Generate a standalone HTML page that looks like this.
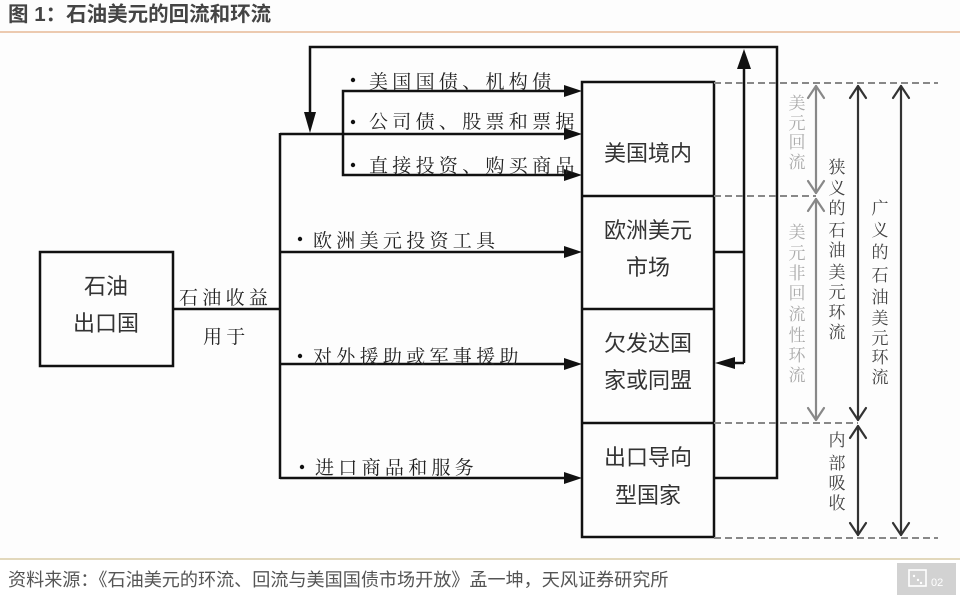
<!DOCTYPE html>
<html><head><meta charset="utf-8">
<style>
html,body{margin:0;padding:0;background:#fdfdfd;}
body{width:960px;height:595px;overflow:hidden;}
svg{display:block;}
.t{font-family:"Liberation Sans","Noto Sans CJK SC",sans-serif;}
.s{font-family:"Noto Serif CJK SC","Liberation Serif",serif;}
</style></head><body>
<svg width="960" height="595" viewBox="0 0 960 595" xmlns="http://www.w3.org/2000/svg">
<rect x="0" y="0" width="960" height="595" fill="#fdfdfd"/>
<!-- title -->
<text x="8" y="21" class="t" font-size="20.5" font-weight="bold" fill="#444">图 1：石油美元的回流和环流</text>
<line x1="0" y1="32" x2="960" y2="32" stroke="#eccab0" stroke-width="2"/>

<g stroke="#111" stroke-width="2.5" fill="none">
  <rect x="40" y="252" width="133" height="114"/>
  <line x1="173" y1="309" x2="280" y2="309"/>
  <line x1="280" y1="133" x2="280" y2="479"/>
  <line x1="280" y1="134" x2="568" y2="134"/>
  <line x1="280" y1="252" x2="568" y2="252"/>
  <line x1="280" y1="364" x2="568" y2="364"/>
  <line x1="280" y1="478" x2="568" y2="478"/>
  <polyline points="568,91 343,91 343,175 568,175"/>
  <rect x="582" y="82" width="132" height="455"/>
  <line x1="582" y1="196" x2="714" y2="196"/>
  <line x1="582" y1="309" x2="714" y2="309"/>
  <line x1="582" y1="423" x2="714" y2="423"/>
  <polyline points="714,478 777,478 777,47 310,47 310,115"/>
  <line x1="744" y1="66" x2="744" y2="363"/>
  <line x1="714" y1="252" x2="744" y2="252"/>
  <line x1="744" y1="363" x2="733" y2="363"/>
</g>
<g fill="#111">
  <polygon points="582,91 564,85 564,97"/>
  <polygon points="582,134 564,128 564,140"/>
  <polygon points="582,175 564,169 564,181"/>
  <polygon points="582,252 564,246 564,258"/>
  <polygon points="582,364 564,358 564,370"/>
  <polygon points="582,478 564,472 564,484"/>
  <polygon points="310,133 304,112 316,112"/>
  <polygon points="744,49 737,69 751,69"/>
  <polygon points="715,363 735,357 735,369"/>
  <circle cx="353" cy="80" r="2.2"/>
  <circle cx="353" cy="122" r="2.2"/>
  <circle cx="353" cy="165" r="2.2"/>
  <circle cx="300" cy="239" r="2.2"/>
  <circle cx="300" cy="356" r="2.2"/>
  <circle cx="302" cy="467" r="2.2"/>
</g>

<g class="s" font-size="19" fill="#222" letter-spacing="4.3">
  <text x="369" y="88">美国国债、机构债</text>
  <text x="369" y="128">公司债、股票和票据</text>
  <text x="369" y="172">直接投资、购买商品</text>
  <text x="313" y="247">欧洲美元投资工具</text>
  <text x="313" y="363">对外援助或军事援助</text>
  <text x="315" y="474">进口商品和服务</text>
  <text x="179" y="304">石油收益</text>
  <text x="203" y="343">用于</text>
</g>

<g class="t" font-size="22" fill="#333" text-anchor="middle">
  <text x="106" y="294">石油</text>
  <text x="106" y="331">出口国</text>
  <text x="648" y="161">美国境内</text>
  <text x="648" y="238">欧洲美元</text>
  <text x="648" y="275">市场</text>
  <text x="648" y="351">欠发达国</text>
  <text x="648" y="388">家或同盟</text>
  <text x="648" y="465">出口导向</text>
  <text x="648" y="503">型国家</text>
</g>

<g stroke="#888" stroke-width="2" stroke-dasharray="7 4">
  <line x1="714" y1="83" x2="938" y2="83"/>
  <line x1="714" y1="196" x2="816" y2="196"/>
  <line x1="714" y1="423" x2="858" y2="423"/>
  <line x1="714" y1="538" x2="938" y2="538"/>
</g>

<g fill="none" stroke-width="2.2" stroke-linecap="round" stroke-linejoin="round">
  <g stroke="#888">
    <line x1="816" y1="86" x2="816" y2="193"/>
    <polyline points="808,98 816,86 824,98"/>
    <polyline points="808,181 816,193 824,181"/>
    <line x1="816" y1="199" x2="816" y2="420"/>
    <polyline points="808,211 816,199 824,211"/>
    <polyline points="808,408 816,420 824,408"/>
  </g>
  <g stroke="#333">
    <line x1="858" y1="86" x2="858" y2="420"/>
    <polyline points="850,98 858,86 866,98"/>
    <polyline points="850,408 858,420 866,408"/>
    <line x1="858" y1="426" x2="858" y2="535"/>
    <polyline points="850,438 858,426 866,438"/>
    <polyline points="850,523 858,535 866,523"/>
    <line x1="901" y1="86" x2="901" y2="535"/>
    <polyline points="893,98 901,86 909,98"/>
    <polyline points="893,523 901,535 909,523"/>
  </g>
</g>

<g class="s" font-size="17" text-anchor="middle">
  <g fill="#aaa">
    <text x="797" y="109">美</text><text x="797" y="129">元</text><text x="797" y="148">回</text><text x="797" y="168">流</text>
    <text x="797" y="238">美</text><text x="797" y="259">元</text><text x="797" y="279">非</text><text x="797" y="299">回</text><text x="797" y="320">流</text><text x="797" y="341">性</text><text x="797" y="361">环</text><text x="797" y="381">流</text>
  </g>
  <g fill="#444">
    <text x="837" y="173">狭</text><text x="837" y="194">义</text><text x="837" y="214">的</text><text x="837" y="236">石</text><text x="837" y="256">油</text><text x="837" y="278">美</text><text x="837" y="298">元</text><text x="837" y="318">环</text><text x="837" y="338">流</text>
    <text x="880" y="214">广</text><text x="880" y="236">义</text><text x="880" y="258">的</text><text x="880" y="281">石</text><text x="880" y="303">油</text><text x="880" y="324">美</text><text x="880" y="344">元</text><text x="880" y="363">环</text><text x="880" y="383">流</text>
    <text x="837" y="446">内</text><text x="837" y="469">部</text><text x="837" y="489">吸</text><text x="837" y="509">收</text>
  </g>
</g>

<line x1="0" y1="559" x2="960" y2="559" stroke="#e2d8bc" stroke-width="2"/>
<rect x="0" y="560" width="960" height="35" fill="#ffffff"/>
<text x="8" y="586" class="t" font-size="18.1" fill="#555">资料来源：《石油美元的环流、回流与美国国债市场开放》孟一坤，天风证券研究所</text>
<rect x="897" y="563" width="59" height="32" fill="#d2d2d2"/>
<rect x="909" y="570" width="17" height="16" fill="none" stroke="#fff" stroke-width="1.6"/>
<circle cx="914" cy="576" r="1.2" fill="#fff"/><circle cx="918" cy="580" r="1.2" fill="#fff"/><circle cx="921" cy="583" r="1.2" fill="#fff"/>
<text x="931" y="586" class="t" font-size="11" fill="#fff">02</text>
</svg>
</body></html>
